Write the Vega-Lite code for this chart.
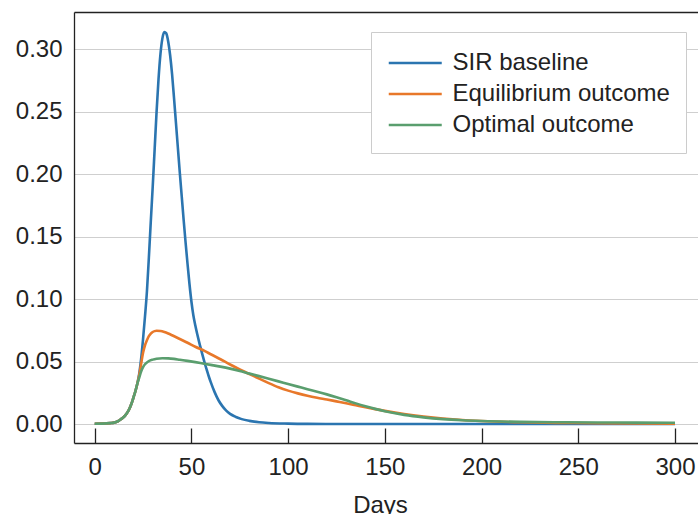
{
  "$schema": "https://vega.github.io/schema/vega-lite/v6.json",
  "width": 624,
  "height": 431,
  "autosize": {"type": "none"},
  "padding": {"left": 74, "top": 12, "right": 0, "bottom": 71},
  "background": "white",
  "config": {
    "view": {"stroke": null},
    "font": "Liberation Sans",
    "axis": {
      "labelFont": "Liberation Sans",
      "titleFont": "Liberation Sans",
      "labelFontSize": 24,
      "titleFontSize": 24,
      "titleFontWeight": "normal",
      "labelColor": "#222",
      "titleColor": "#222",
      "domainColor": "#222",
      "domainWidth": 1.3,
      "tickColor": "#222",
      "tickWidth": 1.3,
      "gridColor": "#cfcfcf",
      "gridWidth": 1.2
    },
    "legend": {
      "labelFont": "Liberation Sans",
      "labelFontSize": 24,
      "labelColor": "#222"
    }
  },
  "data": {
    "values": [
      {"day": 0, "value": 0.0002, "series": "SIR baseline"},
      {"day": 4, "value": 0.0003, "series": "SIR baseline"},
      {"day": 8, "value": 0.0007, "series": "SIR baseline"},
      {"day": 10, "value": 0.0011, "series": "SIR baseline"},
      {"day": 12, "value": 0.0022, "series": "SIR baseline"},
      {"day": 13, "value": 0.0032, "series": "SIR baseline"},
      {"day": 14, "value": 0.0043, "series": "SIR baseline"},
      {"day": 15, "value": 0.0056, "series": "SIR baseline"},
      {"day": 16, "value": 0.0073, "series": "SIR baseline"},
      {"day": 17, "value": 0.0095, "series": "SIR baseline"},
      {"day": 18, "value": 0.0124, "series": "SIR baseline"},
      {"day": 19, "value": 0.0162, "series": "SIR baseline"},
      {"day": 20, "value": 0.021, "series": "SIR baseline"},
      {"day": 21, "value": 0.026, "series": "SIR baseline"},
      {"day": 22, "value": 0.032, "series": "SIR baseline"},
      {"day": 23, "value": 0.04, "series": "SIR baseline"},
      {"day": 24, "value": 0.052, "series": "SIR baseline"},
      {"day": 25, "value": 0.068, "series": "SIR baseline"},
      {"day": 26, "value": 0.086, "series": "SIR baseline"},
      {"day": 27, "value": 0.106, "series": "SIR baseline"},
      {"day": 28, "value": 0.133, "series": "SIR baseline"},
      {"day": 29, "value": 0.162, "series": "SIR baseline"},
      {"day": 30, "value": 0.19, "series": "SIR baseline"},
      {"day": 31, "value": 0.22, "series": "SIR baseline"},
      {"day": 32, "value": 0.25, "series": "SIR baseline"},
      {"day": 33, "value": 0.276, "series": "SIR baseline"},
      {"day": 34, "value": 0.296, "series": "SIR baseline"},
      {"day": 35, "value": 0.3085, "series": "SIR baseline"},
      {"day": 36, "value": 0.3135, "series": "SIR baseline"},
      {"day": 37, "value": 0.3125, "series": "SIR baseline"},
      {"day": 38, "value": 0.306, "series": "SIR baseline"},
      {"day": 39, "value": 0.295, "series": "SIR baseline"},
      {"day": 40, "value": 0.28, "series": "SIR baseline"},
      {"day": 41, "value": 0.261, "series": "SIR baseline"},
      {"day": 42, "value": 0.241, "series": "SIR baseline"},
      {"day": 43, "value": 0.221, "series": "SIR baseline"},
      {"day": 44, "value": 0.201, "series": "SIR baseline"},
      {"day": 45, "value": 0.182, "series": "SIR baseline"},
      {"day": 46, "value": 0.163, "series": "SIR baseline"},
      {"day": 47, "value": 0.145, "series": "SIR baseline"},
      {"day": 48, "value": 0.128, "series": "SIR baseline"},
      {"day": 49, "value": 0.112, "series": "SIR baseline"},
      {"day": 50, "value": 0.098, "series": "SIR baseline"},
      {"day": 51, "value": 0.087, "series": "SIR baseline"},
      {"day": 52, "value": 0.079, "series": "SIR baseline"},
      {"day": 53, "value": 0.072, "series": "SIR baseline"},
      {"day": 54, "value": 0.0655, "series": "SIR baseline"},
      {"day": 55, "value": 0.0595, "series": "SIR baseline"},
      {"day": 56, "value": 0.0537, "series": "SIR baseline"},
      {"day": 57, "value": 0.048, "series": "SIR baseline"},
      {"day": 58, "value": 0.043, "series": "SIR baseline"},
      {"day": 59, "value": 0.038, "series": "SIR baseline"},
      {"day": 60, "value": 0.0335, "series": "SIR baseline"},
      {"day": 62, "value": 0.0255, "series": "SIR baseline"},
      {"day": 64, "value": 0.019, "series": "SIR baseline"},
      {"day": 66, "value": 0.0143, "series": "SIR baseline"},
      {"day": 68, "value": 0.0107, "series": "SIR baseline"},
      {"day": 70, "value": 0.0081, "series": "SIR baseline"},
      {"day": 73, "value": 0.0056, "series": "SIR baseline"},
      {"day": 76, "value": 0.0039, "series": "SIR baseline"},
      {"day": 80, "value": 0.0025, "series": "SIR baseline"},
      {"day": 85, "value": 0.0014, "series": "SIR baseline"},
      {"day": 90, "value": 0.0008, "series": "SIR baseline"},
      {"day": 100, "value": 0.0003, "series": "SIR baseline"},
      {"day": 110, "value": 0.0001, "series": "SIR baseline"},
      {"day": 130, "value": 0.00003, "series": "SIR baseline"},
      {"day": 150, "value": 0, "series": "SIR baseline"},
      {"day": 200, "value": 0, "series": "SIR baseline"},
      {"day": 250, "value": 0, "series": "SIR baseline"},
      {"day": 300, "value": 0, "series": "SIR baseline"},

      {"day": 0, "value": 0.0002, "series": "Equilibrium outcome"},
      {"day": 4, "value": 0.0003, "series": "Equilibrium outcome"},
      {"day": 8, "value": 0.0007, "series": "Equilibrium outcome"},
      {"day": 10, "value": 0.0011, "series": "Equilibrium outcome"},
      {"day": 12, "value": 0.0022, "series": "Equilibrium outcome"},
      {"day": 13, "value": 0.0032, "series": "Equilibrium outcome"},
      {"day": 14, "value": 0.0043, "series": "Equilibrium outcome"},
      {"day": 15, "value": 0.0056, "series": "Equilibrium outcome"},
      {"day": 16, "value": 0.0073, "series": "Equilibrium outcome"},
      {"day": 17, "value": 0.0095, "series": "Equilibrium outcome"},
      {"day": 18, "value": 0.0124, "series": "Equilibrium outcome"},
      {"day": 19, "value": 0.0162, "series": "Equilibrium outcome"},
      {"day": 20, "value": 0.021, "series": "Equilibrium outcome"},
      {"day": 21, "value": 0.026, "series": "Equilibrium outcome"},
      {"day": 22, "value": 0.032, "series": "Equilibrium outcome"},
      {"day": 23, "value": 0.039, "series": "Equilibrium outcome"},
      {"day": 24, "value": 0.048, "series": "Equilibrium outcome"},
      {"day": 25, "value": 0.057, "series": "Equilibrium outcome"},
      {"day": 26, "value": 0.063, "series": "Equilibrium outcome"},
      {"day": 27, "value": 0.067, "series": "Equilibrium outcome"},
      {"day": 28, "value": 0.0703, "series": "Equilibrium outcome"},
      {"day": 29, "value": 0.0723, "series": "Equilibrium outcome"},
      {"day": 30, "value": 0.0736, "series": "Equilibrium outcome"},
      {"day": 31, "value": 0.0743, "series": "Equilibrium outcome"},
      {"day": 32, "value": 0.0746, "series": "Equilibrium outcome"},
      {"day": 34, "value": 0.0744, "series": "Equilibrium outcome"},
      {"day": 36, "value": 0.0736, "series": "Equilibrium outcome"},
      {"day": 38, "value": 0.0724, "series": "Equilibrium outcome"},
      {"day": 40, "value": 0.071, "series": "Equilibrium outcome"},
      {"day": 44, "value": 0.068, "series": "Equilibrium outcome"},
      {"day": 48, "value": 0.065, "series": "Equilibrium outcome"},
      {"day": 52, "value": 0.0618, "series": "Equilibrium outcome"},
      {"day": 57, "value": 0.0583, "series": "Equilibrium outcome"},
      {"day": 60, "value": 0.0558, "series": "Equilibrium outcome"},
      {"day": 65, "value": 0.0518, "series": "Equilibrium outcome"},
      {"day": 70, "value": 0.0476, "series": "Equilibrium outcome"},
      {"day": 75, "value": 0.0437, "series": "Equilibrium outcome"},
      {"day": 80, "value": 0.04, "series": "Equilibrium outcome"},
      {"day": 85, "value": 0.0363, "series": "Equilibrium outcome"},
      {"day": 90, "value": 0.0327, "series": "Equilibrium outcome"},
      {"day": 95, "value": 0.0294, "series": "Equilibrium outcome"},
      {"day": 100, "value": 0.0267, "series": "Equilibrium outcome"},
      {"day": 105, "value": 0.0245, "series": "Equilibrium outcome"},
      {"day": 110, "value": 0.0226, "series": "Equilibrium outcome"},
      {"day": 115, "value": 0.021, "series": "Equilibrium outcome"},
      {"day": 120, "value": 0.0196, "series": "Equilibrium outcome"},
      {"day": 125, "value": 0.0181, "series": "Equilibrium outcome"},
      {"day": 130, "value": 0.0166, "series": "Equilibrium outcome"},
      {"day": 135, "value": 0.015, "series": "Equilibrium outcome"},
      {"day": 140, "value": 0.0134, "series": "Equilibrium outcome"},
      {"day": 145, "value": 0.0119, "series": "Equilibrium outcome"},
      {"day": 150, "value": 0.0105, "series": "Equilibrium outcome"},
      {"day": 160, "value": 0.008, "series": "Equilibrium outcome"},
      {"day": 170, "value": 0.006, "series": "Equilibrium outcome"},
      {"day": 180, "value": 0.0044, "series": "Equilibrium outcome"},
      {"day": 190, "value": 0.0032, "series": "Equilibrium outcome"},
      {"day": 200, "value": 0.0024, "series": "Equilibrium outcome"},
      {"day": 220, "value": 0.0014, "series": "Equilibrium outcome"},
      {"day": 240, "value": 0.0009, "series": "Equilibrium outcome"},
      {"day": 260, "value": 0.0006, "series": "Equilibrium outcome"},
      {"day": 280, "value": 0.0004, "series": "Equilibrium outcome"},
      {"day": 300, "value": 0.0003, "series": "Equilibrium outcome"},

      {"day": 0, "value": 0.0002, "series": "Optimal outcome"},
      {"day": 4, "value": 0.0003, "series": "Optimal outcome"},
      {"day": 8, "value": 0.0007, "series": "Optimal outcome"},
      {"day": 10, "value": 0.0011, "series": "Optimal outcome"},
      {"day": 12, "value": 0.0022, "series": "Optimal outcome"},
      {"day": 13, "value": 0.0032, "series": "Optimal outcome"},
      {"day": 14, "value": 0.0043, "series": "Optimal outcome"},
      {"day": 15, "value": 0.0056, "series": "Optimal outcome"},
      {"day": 16, "value": 0.0073, "series": "Optimal outcome"},
      {"day": 17, "value": 0.0095, "series": "Optimal outcome"},
      {"day": 18, "value": 0.0124, "series": "Optimal outcome"},
      {"day": 19, "value": 0.0162, "series": "Optimal outcome"},
      {"day": 20, "value": 0.021, "series": "Optimal outcome"},
      {"day": 21, "value": 0.026, "series": "Optimal outcome"},
      {"day": 22, "value": 0.032, "series": "Optimal outcome"},
      {"day": 23, "value": 0.037, "series": "Optimal outcome"},
      {"day": 24, "value": 0.042, "series": "Optimal outcome"},
      {"day": 25, "value": 0.0455, "series": "Optimal outcome"},
      {"day": 26, "value": 0.0478, "series": "Optimal outcome"},
      {"day": 27, "value": 0.0492, "series": "Optimal outcome"},
      {"day": 28, "value": 0.0503, "series": "Optimal outcome"},
      {"day": 30, "value": 0.0515, "series": "Optimal outcome"},
      {"day": 32, "value": 0.0522, "series": "Optimal outcome"},
      {"day": 35, "value": 0.0526, "series": "Optimal outcome"},
      {"day": 38, "value": 0.0525, "series": "Optimal outcome"},
      {"day": 41, "value": 0.0521, "series": "Optimal outcome"},
      {"day": 44, "value": 0.0514, "series": "Optimal outcome"},
      {"day": 48, "value": 0.0505, "series": "Optimal outcome"},
      {"day": 52, "value": 0.0495, "series": "Optimal outcome"},
      {"day": 56, "value": 0.0484, "series": "Optimal outcome"},
      {"day": 60, "value": 0.0473, "series": "Optimal outcome"},
      {"day": 65, "value": 0.0459, "series": "Optimal outcome"},
      {"day": 70, "value": 0.0443, "series": "Optimal outcome"},
      {"day": 75, "value": 0.0424, "series": "Optimal outcome"},
      {"day": 80, "value": 0.0403, "series": "Optimal outcome"},
      {"day": 85, "value": 0.0383, "series": "Optimal outcome"},
      {"day": 90, "value": 0.0362, "series": "Optimal outcome"},
      {"day": 95, "value": 0.0341, "series": "Optimal outcome"},
      {"day": 100, "value": 0.032, "series": "Optimal outcome"},
      {"day": 105, "value": 0.0299, "series": "Optimal outcome"},
      {"day": 110, "value": 0.0278, "series": "Optimal outcome"},
      {"day": 115, "value": 0.0258, "series": "Optimal outcome"},
      {"day": 120, "value": 0.0237, "series": "Optimal outcome"},
      {"day": 125, "value": 0.0214, "series": "Optimal outcome"},
      {"day": 130, "value": 0.019, "series": "Optimal outcome"},
      {"day": 135, "value": 0.0165, "series": "Optimal outcome"},
      {"day": 140, "value": 0.0142, "series": "Optimal outcome"},
      {"day": 145, "value": 0.0121, "series": "Optimal outcome"},
      {"day": 150, "value": 0.0102, "series": "Optimal outcome"},
      {"day": 160, "value": 0.0073, "series": "Optimal outcome"},
      {"day": 170, "value": 0.0053, "series": "Optimal outcome"},
      {"day": 180, "value": 0.0039, "series": "Optimal outcome"},
      {"day": 190, "value": 0.003, "series": "Optimal outcome"},
      {"day": 200, "value": 0.0024, "series": "Optimal outcome"},
      {"day": 220, "value": 0.0017, "series": "Optimal outcome"},
      {"day": 240, "value": 0.0014, "series": "Optimal outcome"},
      {"day": 260, "value": 0.0012, "series": "Optimal outcome"},
      {"day": 280, "value": 0.0011, "series": "Optimal outcome"},
      {"day": 300, "value": 0.001, "series": "Optimal outcome"}
    ]
  },
  "layer": [
    {
      "mark": {"type": "line", "strokeWidth": 2.6, "interpolate": "monotone", "clip": true},
      "encoding": {
        "x": {
          "field": "day", "type": "quantitative",
          "scale": {"domain": [-10.7, 311.9], "nice": false, "zero": false},
          "axis": {
            "title": "Days",
            "values": [0, 50, 100, 150, 200, 250, 300],
            "grid": false,
            "tickSize": -15,
            "labelPadding": 27,
            "titlePadding": 14,
            "titleX": 306
          }
        },
        "y": {
          "field": "value", "type": "quantitative",
          "scale": {"domain": [-0.0152, 0.3296], "nice": false, "zero": false},
          "axis": {
            "title": null,
            "values": [0, 0.05, 0.1, 0.15, 0.2, 0.25, 0.3],
            "format": ".2f",
            "ticks": false,
            "labelPadding": 12,
            "grid": true
          }
        },
        "color": {
          "field": "series", "type": "nominal",
          "sort": ["SIR baseline", "Equilibrium outcome", "Optimal outcome"],
          "scale": {
            "domain": ["SIR baseline", "Equilibrium outcome", "Optimal outcome"],
            "range": ["#2b75b0", "#e8782a", "#5a9e6e"]
          },
          "legend": {
            "title": null,
            "orient": "none",
            "legendX": 297,
            "legendY": 20,
            "symbolType": "M-1,0H3",
            "symbolSize": 702,
            "symbolStrokeWidth": 2.6,
            "labelOffset": 35.5,
            "labelLimit": 400,
            "padding": 16,
            "rowPadding": 4,
            "strokeColor": "#cccccc",
            "fillColor": "white",
            "cornerRadius": 0
          }
        }
      }
    },
    {
      "mark": {"type": "line", "opacity": 0},
      "encoding": {
        "x": {
          "field": "day", "type": "quantitative",
          "axis": {"orient": "top", "title": null, "labels": false, "ticks": false, "grid": false, "domain": true}
        },
        "y": {"field": "value", "type": "quantitative"}
      }
    }
  ],
  "resolve": {"axis": {"x": "independent"}}
}
